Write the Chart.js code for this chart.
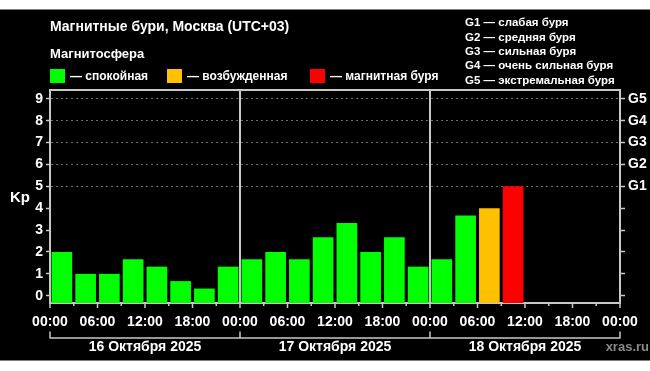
<!DOCTYPE html>
<html lang="ru">
<head>
<meta charset="utf-8">
<script src="https://cdn.jsdelivr.net/npm/chart.js"></script>
<style>
    html, body { margin: 0; padding: 0; background: #fff; }
    #box { width: 650px; height: 371px; }
</style>
</head>
<body>
<div id="box"><canvas id="grafico-kp" width="650" height="371"></canvas></div>
<script>
// Данные: Kp по 3-часовым интервалам (16-18 октября 2025)
const kpValues = [2, 1, 1, 1.67, 1.33, 0.67, 0.33, 1.33,
                  1.67, 2, 1.67, 2.67, 3.33, 2, 2.67, 1.33,
                  1.67, 3.67, 4, 5, null, null, null, null];
const hourLabels = ["00:00", "06:00", "12:00", "18:00", "00:00", "06:00", "12:00",
                    "18:00", "00:00", "06:00", "12:00", "18:00", "00:00"];
const dayLabels = ["16 Октября 2025", "17 Октября 2025", "18 Октября 2025"];
const kpTicks = [0, 1, 2, 3, 4, 5, 6, 7, 8, 9];
const gLabels = ["G1", "G2", "G3", "G4", "G5"];
const stateLabels = ["— спокойная", "— возбужденная", "— магнитная буря"];
const stateColors = ["#00ff00", "#ffc000", "#ff0000"];
const gLegend = ["G1 — слабая буря", "G2 — средняя буря", "G3 — сильная буря",
                 "G4 — очень сильная буря", "G5 — экстремальная буря"];

const Y_MIN = -0.33, Y_MAX = 9.4;
const FONT = "'Liberation Sans', Arial, sans-serif";
const FRAME = "#c8c8c8";

function corBarra(v) {
    if (v >= 5) return stateColors[2];
    if (v >= 4) return stateColors[1];
    return stateColors[0];
}

// всё, что не делает сама библиотека: фон, заголовки, легенды, рамка, даты
const decorPlugin = {
    id: "decor",
    beforeDraw(chart) {
        const ctx = chart.ctx;
        ctx.save();
        ctx.fillStyle = "#000";
        ctx.fillRect(0, 9.5, 650, 351);
        ctx.restore();
    },
    afterDraw(chart) {
        const ctx = chart.ctx;
        const area = chart.chartArea;
        const x = chart.scales.x;
        ctx.save();
        ctx.fillStyle = "#fff";
        ctx.textBaseline = "middle";
        ctx.textAlign = "left";
        ctx.font = "bold 14px " + FONT;
        ctx.fillText("Магнитные бури, Москва (UTC+03)", 50, 27);
        ctx.font = "bold 13px " + FONT;
        ctx.fillText("Магнитосфера", 50, 54);

        // легенда состояний
        ctx.font = "bold 12px " + FONT;
        const boxX = [50, 167, 310];
        stateLabels.forEach((t, i) => {
            ctx.fillStyle = stateColors[i];
            ctx.fillRect(boxX[i], 69, 15, 14);
            ctx.fillStyle = "#fff";
            ctx.fillText(t, boxX[i] + 20, 76.5);
        });
        ctx.font = "bold 11.5px " + FONT;
        gLegend.forEach((t, i) => {
            ctx.fillText(t, 465, 23 + i * 14.4);
        });

        ctx.font = "bold 15px " + FONT;
        ctx.textAlign = "center";
        ctx.fillText("Kp", 20, 198);

        // верхняя линия рамки
        ctx.strokeStyle = FRAME;
        ctx.lineWidth = 2;
        ctx.beginPath();
        ctx.moveTo(area.left - 1, area.top);
        ctx.lineTo(area.right + 1, area.top);
        ctx.stroke();

        // засечки оси времени (6 ч длинные, 3 ч короткие)
        ctx.lineWidth = 1.5;
        for (let h = 0; h <= 24; h++) {
            const px = x.getPixelForValue(h);
            ctx.beginPath();
            ctx.moveTo(px, area.bottom);
            ctx.lineTo(px, area.bottom + (h % 2 === 0 ? 5 : 3));
            ctx.stroke();
        }

        // скобка с датами
        ctx.beginPath();
        for (let d = 0; d <= 3; d++) {
            const px = x.getPixelForValue(d * 8);
            ctx.moveTo(px, 331.5);
            ctx.lineTo(px, 338.5);
        }
        ctx.moveTo(x.getPixelForValue(0), 338);
        ctx.lineTo(x.getPixelForValue(24), 338);
        ctx.stroke();

        ctx.fillStyle = "#fff";
        ctx.font = "bold 14px " + FONT;
        dayLabels.forEach((t, i) => {
            ctx.fillText(t, x.getPixelForValue(i * 8 + 4), 347.5);
        });

        ctx.fillStyle = "#8a8a8a";
        ctx.textAlign = "right";
        ctx.font = "bold 13px " + FONT;
        ctx.fillText("xras.ru", 649, 347.5);
        ctx.restore();
    }
};

const ctx = document.getElementById("grafico-kp").getContext("2d");
const grafico = new Chart(ctx, {
    type: "bar",
    data: {
        datasets: [{
            data: kpValues.map((v, i) => ({ x: i + 0.5, y: v })),
            backgroundColor: c => corBarra(c.raw ? c.raw.y : 0),
            base: Y_MIN,
            barPercentage: 1,
            categoryPercentage: 0.87,
            borderWidth: 0,
        }],
    },
    plugins: [decorPlugin],
    options: {
        responsive: false,
        animation: false,
        layout: { padding: { top: 90, left: 0, right: 0, bottom: 0 } },
        plugins: {
            legend: { display: false },
            tooltip: { enabled: false },
        },
        scales: {
            x: {
                type: "linear",
                min: 0,
                max: 24,
                offset: false,
                afterFit: s => { s.height = 68; },
                afterBuildTicks: s => { s.ticks = hourLabels.map((_, i) => ({ value: i * 2 })); },
                ticks: {
                    autoSkip: false,
                    maxRotation: 0,
                    padding: 11,
                    color: "#fff",
                    font: { family: FONT, size: 14, weight: "bold" },
                    callback: v => hourLabels[v / 2],
                },
                grid: {
                    offset: false,
                    drawTicks: false,
                    lineWidth: 2,
                    color: c => (c.tick && (c.tick.value === 8 || c.tick.value === 16)) ? FRAME : "rgba(0,0,0,0)",
                },
                border: { color: FRAME, width: 2 },
            },
            y: {
                position: "left",
                min: Y_MIN,
                max: Y_MAX,
                afterFit: s => { s.width = 50; },
                afterBuildTicks: s => { s.ticks = kpTicks.map(v => ({ value: v })); },
                ticks: {
                    padding: 3,
                    color: "#fff",
                    font: { family: FONT, size: 14, weight: "bold" },
                },
                grid: {
                    tickLength: 4,
                    tickColor: FRAME,
                    tickWidth: 1.5,
                    lineWidth: 1,
                    color: c => (c.tick && c.tick.value >= 5) ? "#6e6e6e" : "rgba(0,0,0,0)",
                },
                border: { color: FRAME, width: 2, dash: [2, 3] },
            },
            y2: {
                position: "right",
                min: Y_MIN,
                max: Y_MAX,
                afterFit: s => { s.width = 30; },
                afterBuildTicks: s => { s.ticks = kpTicks.map(v => ({ value: v })); },
                ticks: {
                    padding: 3,
                    color: "#fff",
                    font: { family: FONT, size: 14, weight: "bold" },
                    callback: v => (v >= 5 ? gLabels[v - 5] : ""),
                },
                grid: {
                    drawOnChartArea: false,
                    tickLength: 5,
                    tickColor: FRAME,
                    tickWidth: 1.5,
                },
                border: { color: FRAME, width: 2 },
            },
        },
    },
});
</script>
</body>
</html>
